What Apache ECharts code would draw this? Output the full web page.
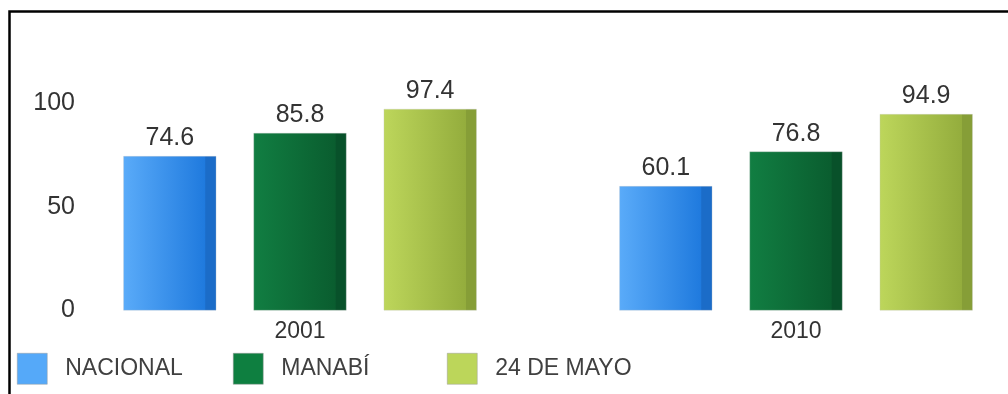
<!DOCTYPE html>
<html>
<head>
<meta charset="utf-8">
<script src="https://cdn.jsdelivr.net/npm/echarts@6/dist/echarts.min.js"></script>
<style>
  html, body { margin: 0; padding: 0; background: #fff; width: 1008px; height: 394px; overflow: hidden; }
  #frame { width: 1008px; height: 394px; overflow: hidden; position: relative; }
  /* the plot runs past the right edge of the frame, so the canvas is wider and clipped */
  #chart { width: 1044px; height: 394px; }
</style>
</head>
<body>
<div id="frame"><div id="chart"></div></div>
<script>
// Census years on the category axis
const years = ['2001', '2010'];
// Series names (legend)
const seriesNames = ['NACIONAL', 'MANABÍ', '24 DE MAYO'];
// Values per series, one per year
const nacional = [74.6, 60.1];
const manabi = [85.8, 76.8];
const mayo24 = [97.4, 94.9];
// Value-axis ticks
const yTicks = [0, 50, 100];

const fontFamily = '"Liberation Sans", Arial, sans-serif';

// Horizontal gradient with a darker strip at the right edge of each bar
function barFill(light, mid, dark) {
  return new echarts.graphic.LinearGradient(0, 0, 1, 0, [
    { offset: 0, color: light },
    { offset: 0.88, color: mid },
    { offset: 0.885, color: dark },
    { offset: 1, color: dark }
  ]);
}

const palette = [
  { legend: '#55a9f9', fill: barFill('#5aabf9', '#1f7ade', '#1b6cc8') },
  { legend: '#0e7f40', fill: barFill('#117e42', '#0a5d2f', '#08512a') },
  { legend: '#bcd65a', fill: barFill('#bdd65b', '#94ad3d', '#869e37') }
];

const valueSets = [nacional, manabi, mayo24];

const chart = echarts.init(document.getElementById('chart'), null, { renderer: 'canvas' });

chart.setOption({
  animation: false,
  backgroundColor: '#ffffff',
  grid: { left: 52, top: 103.5, right: 0, bottom: 83.5, containLabel: false },
  xAxis: {
    type: 'category',
    data: years,
    axisLine: { show: false },
    axisTick: { show: false },
    axisLabel: { color: '#333333', fontFamily: fontFamily, fontSize: 23, margin: 10 }
  },
  yAxis: {
    type: 'value',
    min: yTicks[0],
    max: yTicks[yTicks.length - 1],
    interval: 50,
    offset: -31,
    axisLine: { show: false },
    axisTick: { show: false },
    splitLine: { show: false },
    axisLabel: { color: '#333333', fontFamily: fontFamily, fontSize: 25, margin: 8, align: 'right' }
  },
  legend: seriesNames.map((name, i) => ({
    data: [{ name: name, itemStyle: { color: palette[i].legend, borderColor: '#9a9a9a', borderWidth: 0.5 } }],
    left: [12, 228, 442][i],
    top: 348,
    itemWidth: 30,
    itemHeight: 31,
    icon: 'rect',
    selectedMode: false,
    textStyle: { color: '#404040', fontFamily: fontFamily, fontSize: 23, padding: [0, 0, 0, 13] }
  })),
  graphic: [{
    type: 'polyline',
    shape: { points: [[9.5, 394], [9.5, 11.5], [1044, 11.5]] },
    style: { stroke: '#000000', lineWidth: 2.5, fill: null }
  }],
  series: seriesNames.map((name, i) => ({
    name: name,
    type: 'bar',
    data: valueSets[i],
    barWidth: 93,
    barGap: '40%',
    itemStyle: { color: palette[i].fill, borderColor: 'rgba(200,200,200,0.6)', borderWidth: 0.5 },
    label: {
      show: true,
      position: 'top',
      distance: 5,
      color: '#333333',
      fontFamily: fontFamily,
      fontSize: 25,
      formatter: p => p.value.toFixed(1)
    }
  }))
});
</script>
</body>
</html>
